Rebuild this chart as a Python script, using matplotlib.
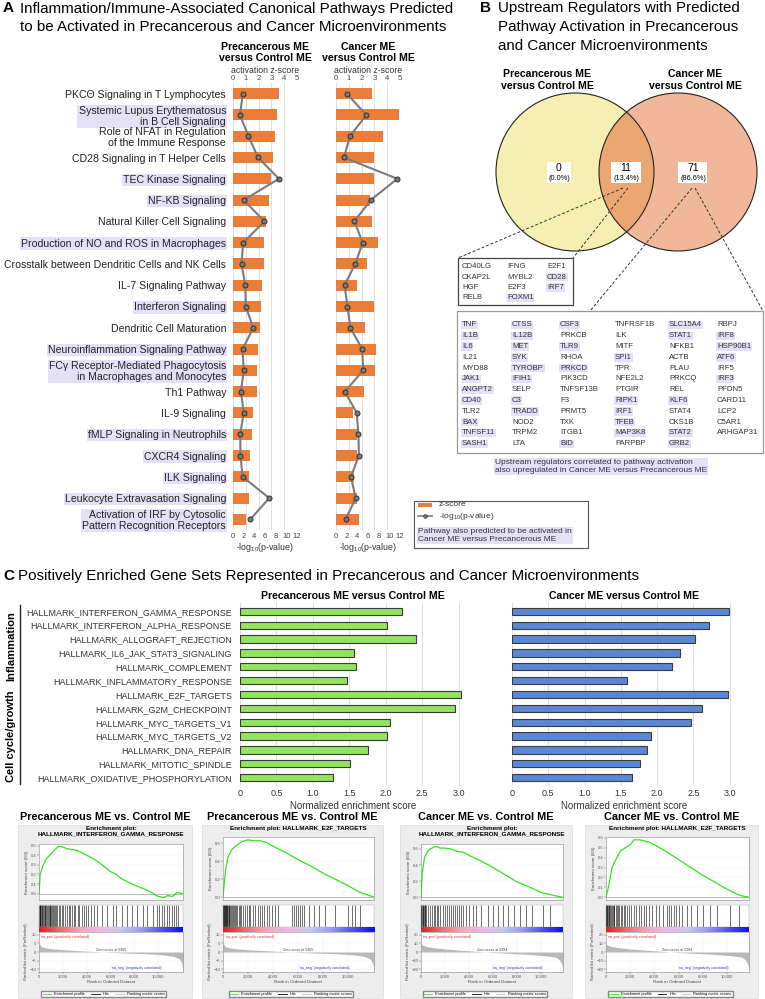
import numpy as np
import matplotlib.pyplot as plt
from matplotlib.patches import Circle, Rectangle
from matplotlib.lines import Line2D
from matplotlib.colors import LinearSegmentedColormap
from matplotlib.transforms import blended_transform_factory

plt.rcParams['font.family'] = ['Liberation Sans', 'DejaVu Sans']
plt.rcParams['mathtext.default'] = 'regular'

W, H = 765, 999
ORANGE = '#ea7d37'
LAV = '#e4e0f7'
GREEN = '#92e35e'
BLUE = '#5b88d6'

# ---- A: IPA canonical pathways
pathways = [
    'PKCΘ Signaling in T Lymphocytes',
    'Systemic Lupus Erythematosus\nin B Cell Signaling',
    'Role of NFAT in Regulation\nof the Immune Response',
    'CD28 Signaling in T Helper Cells',
    'TEC Kinase Signaling',
    'NF-KB Signaling',
    'Natural Killer Cell Signaling',
    'Production of NO and ROS in Macrophages',
    'Crosstalk between Dendritic Cells and NK Cells',
    'IL-7 Signaling Pathway',
    'Interferon Signaling',
    'Dendritic Cell Maturation',
    'Neuroinflammation Signaling Pathway',
    'FCγ Receptor-Mediated Phagocytosis\nin Macrophages and Monocytes',
    'Th1 Pathway',
    'IL-9 Signaling',
    'fMLP Signaling in Neutrophils',
    'CXCR4 Signaling',
    'ILK Signaling',
    'Leukocyte Extravasation Signaling',
    'Activation of IRF by Cytosolic\nPattern Recognition Receptors',
]
pathway_flag = [0, 1, 0, 0, 1, 1, 0, 1, 0, 0, 1, 0, 1, 1, 0, 0, 1, 1, 1, 1, 1]
pre_z = [3.56, 3.46, 3.31, 3.15, 2.95, 2.85, 2.54, 2.46, 2.41, 2.28, 2.20,
         2.10, 1.95, 1.85, 1.85, 1.59, 1.49, 1.36, 1.26, 1.26, 1.00]
pre_logp = [1.85, 1.3, 2.9, 4.7, 8.6, 2.0, 5.9, 1.9, 1.6, 2.3, 2.4,
            3.8, 1.8, 2.0, 1.5, 2.0, 1.35, 1.4, 1.8, 6.8, 3.25]
can_z = [2.82, 4.90, 3.69, 2.95, 2.95, 2.68, 2.84, 3.27, 2.45, 1.61, 2.97,
         2.28, 3.10, 3.05, 2.20, 1.31, 1.67, 1.67, 1.44, 1.62, 1.82]
can_logp = [2.0, 5.7, 2.6, 1.5, 11.5, 6.5, 3.45, 5.0, 3.6, 1.6, 2.15,
            2.7, 4.9, 5.1, 1.65, 3.9, 4.2, 4.3, 2.8, 3.7, 1.8]

# ---- B: upstream regulators
venn_names = ['Precancerous ME\nversus Control ME', 'Cancer ME\nversus Control ME']
venn_counts = [0, 11, 71]
shared_regs = [['CD40LG', 'CKAP2L', 'HGF', 'RELB'],
               ['IFNG', 'MYBL2', 'E2F3', 'FOXM1'],
               ['E2F1', 'CD28', 'IRF7']]
cancer_regs = [
    ['TNF', 'IL1B', 'IL6', 'IL21', 'MYD88', 'JAK1', 'ANGPT2', 'CD40', 'TLR2', 'BAX', 'TNFSF11', 'SASH1'],
    ['CTSS', 'IL12B', 'MET', 'SYK', 'TYROBP', 'IFIH1', 'SELP', 'C3', 'TRADD', 'NOD2', 'TRPM2', 'LTA'],
    ['CSF3', 'PRKCB', 'TLR9', 'RHOA', 'PRKCD', 'PIK3CD', 'TNFSF13B', 'F3', 'PRMT5', 'TXK', 'ITGB1', 'BID'],
    ['TNFRSF1B', 'ILK', 'MITF', 'SPI1', 'TPR', 'NFE2L2', 'PTGIR', 'RIPK1', 'IRF1', 'TFEB', 'MAP3K8', 'PARPBP'],
    ['SLC15A4', 'STAT1', 'NFKB1', 'ACTB', 'PLAU', 'PRKCQ', 'REL', 'KLF6', 'STAT4', 'CKS1B', 'STAT2', 'GRB2'],
    ['RBPJ', 'IRF8', 'HSP90B1', 'ATF6', 'IRF5', 'IRF3', 'PFDN5', 'CARD11', 'LCP2', 'C5AR1', 'ARHGAP31'],
]
reg_flag = {'FOXM1', 'CD28', 'IRF7', 'TNF', 'IL1B', 'IL6', 'JAK1', 'ANGPT2', 'CD40', 'BAX',
            'TNFSF11', 'SASH1', 'CTSS', 'IL12B', 'MET', 'SYK', 'TYROBP', 'IFIH1', 'C3', 'TRADD',
            'CSF3', 'TLR9', 'PRKCD', 'BID', 'SPI1', 'RIPK1', 'IRF1', 'TFEB', 'MAP3K8',
            'SLC15A4', 'STAT1', 'KLF6', 'STAT2', 'GRB2', 'IRF8', 'HSP90B1', 'ATF6', 'IRF3'}

# ---- C: GSEA hallmark sets
gene_sets = ['HALLMARK_INTERFERON_GAMMA_RESPONSE', 'HALLMARK_INTERFERON_ALPHA_RESPONSE',
             'HALLMARK_ALLOGRAFT_REJECTION', 'HALLMARK_IL6_JAK_STAT3_SIGNALING',
             'HALLMARK_COMPLEMENT', 'HALLMARK_INFLAMMATORY_RESPONSE', 'HALLMARK_E2F_TARGETS',
             'HALLMARK_G2M_CHECKPOINT', 'HALLMARK_MYC_TARGETS_V1', 'HALLMARK_MYC_TARGETS_V2',
             'HALLMARK_DNA_REPAIR', 'HALLMARK_MITOTIC_SPINDLE', 'HALLMARK_OXIDATIVE_PHOSPHORYLATION']
nes_pre = [2.22, 2.01, 2.41, 1.56, 1.59, 1.47, 3.03, 2.95, 2.06, 2.01, 1.75, 1.51, 1.28]
nes_can = [2.99, 2.71, 2.52, 2.31, 2.20, 1.59, 2.98, 2.62, 2.47, 1.91, 1.86, 1.77, 1.65]
set_groups = ['Inflammation', 'Cell cycle/growth']
group_sizes = [6, 7]

# enrichment plots (rank, running ES), hit ranks, ranked list metric
es_ifng_pre_x = [0, 100, 300, 600, 900, 1200, 1600, 1900, 2300, 2700, 3200, 4000, 4600, 5200,
                 6000, 6500, 7000, 8000, 8800, 9500, 10000, 10500, 10800, 11200, 11600, 12100]
es_ifng_pre_y = [0, 0.20, 0.28, 0.36, 0.40, 0.44, 0.49, 0.49, 0.47, 0.46, 0.45, 0.40, 0.36, 0.31,
                 0.23, 0.20, 0.15, 0.09, 0.05, 0.01, -0.03, -0.04, -0.02, -0.03, 0.01, 0]
hits_ifng_pre = [15, 45, 80, 120, 170, 230, 290, 340, 400, 470, 530, 600, 680, 750, 820, 900,
                 960, 1040, 1120, 1190, 1280, 1350, 1440, 1520, 1650, 1800, 1900, 2050, 2200,
                 2350, 2480, 2600, 2750, 2900, 3050, 3250, 3400, 3600, 3800, 3950, 4150, 4350,
                 4600, 4900, 5300, 5700, 6200, 6500, 7000, 7400, 7800, 8200, 8700, 9100, 9600,
                 9900, 10100, 10300, 10500, 10750, 10950, 11150, 11350, 11500, 11650]
es_e2f_pre_x = [0, 200, 400, 700, 1000, 1500, 2000, 2500, 3000, 3500, 4000, 5000, 6000, 7000,
                8000, 9000, 10000, 11000, 11500, 12100]
es_e2f_pre_y = [0, 0.30, 0.45, 0.53, 0.57, 0.62, 0.64, 0.63, 0.63, 0.61, 0.57, 0.50, 0.42, 0.35,
                0.27, 0.20, 0.13, 0.05, 0.03, 0]
hits_e2f_pre = [10, 30, 60, 90, 130, 170, 210, 260, 300, 350, 400, 460, 520, 580, 650, 720, 800,
                880, 960, 1050, 1150, 1250, 1350, 1450, 1600, 1750, 1900, 2050, 2200, 2400, 2600,
                2800, 3000, 3150, 3300, 3500, 3700, 3900, 4150, 4400, 5500, 5700, 5850, 6000,
                6150, 6300, 6500, 6900, 7300, 7700, 8200, 9000, 10000, 10300, 10600, 11000]
es_ifng_can_x = [0, 100, 300, 600, 1000, 1300, 1600, 2000, 2500, 3000, 3500, 4000, 5000, 6000,
                 7000, 8000, 9000, 10000, 10600, 11200, 11800]
es_ifng_can_y = [0, 0.30, 0.50, 0.58, 0.62, 0.63, 0.61, 0.61, 0.60, 0.57, 0.56, 0.52, 0.45, 0.37,
                 0.28, 0.19, 0.13, 0.06, 0.04, 0.02, 0]
hits_ifng_can = [10, 40, 80, 130, 180, 240, 300, 370, 450, 600, 750, 900, 1050, 1150, 1300,
                 1450, 1600, 1800, 2000, 2150, 2300, 2500, 2700, 2850, 3000, 3150, 3300, 3500,
                 3700, 4000, 4300, 4600, 5000, 5600, 6000, 6400, 6800, 7200, 7700, 8200, 8700,
                 9200, 10100, 10700]
es_e2f_can_x = [0, 200, 500, 800, 1200, 1600, 2000, 2300, 2800, 3500, 4000, 5000, 6000, 7000,
                8000, 9000, 10000, 10800, 11300, 11800]
es_e2f_can_y = [0, 0.10, 0.30, 0.38, 0.47, 0.50, 0.53, 0.58, 0.58, 0.56, 0.53, 0.46, 0.38, 0.30,
                0.22, 0.15, 0.08, 0.03, 0.01, 0]
hits_e2f_can = [10, 40, 80, 120, 170, 220, 280, 340, 400, 470, 540, 620, 700, 790, 880, 980,
                1080, 1200, 1320, 1450, 1600, 1750, 1900, 2050, 2300, 2500, 2700, 2900, 3100,
                3300, 3550, 3800, 4100, 4400, 4700, 5000, 5200, 5400, 5600, 5800, 6000, 6300,
                6700, 7000, 7500, 8000, 8600, 9200, 10200, 11000]
rank_pre_x = [0, 150, 500, 1000, 2000, 3000, 4000, 5405, 7000, 9000, 10500, 11300, 11800, 12000, 12100]
rank_pre_y = [5.5, 3.2, 2.4, 1.9, 1.3, 0.9, 0.5, 0.0, -0.5, -1.0, -1.7, -2.5, -4.0, -6.5, -10.5]
rank_can_x = [0, 100, 400, 1000, 2000, 3000, 4000, 5284, 7000, 9000, 10500, 11200, 11500, 11700, 11800]
rank_can_y = [11, 8, 6.5, 5, 3.5, 2.4, 1.4, 0.0, -1.3, -2.8, -4.5, -6.0, -9, -14, -19]

fig = plt.figure(figsize=(W / 100, H / 100), dpi=100)


def px_axes(x0, y0, x1, y1):
    return fig.add_axes([x0 / W, 1 - y1 / H, (x1 - x0) / W, (y1 - y0) / H])


# overlay in pixel units for texts, boxes, venn
ov = px_axes(0, 0, W, H)
ov.set_xlim(0, W)
ov.set_ylim(H, 0)
ov.axis('off')

TITLE_FS = 10.9

# ================= A =================
ov.text(3, 12.5, 'A', fontsize=11, fontweight='bold', va='baseline')
ov.text(20, 12.5, 'Inflammation/Immune-Associated Canonical Pathways Predicted', fontsize=TITLE_FS, va='baseline')
ov.text(20, 31, 'to be Activated in Precancerous and Cancer Microenvironments', fontsize=TITLE_FS, va='baseline')


def pathway_panel(x0, x1, z, logp, head, with_labels):
    ax = px_axes(x0, 83, x1, 530)
    ax2 = ax.twiny()
    rows = np.arange(len(z))
    ax.barh(rows, z, height=0.52, color=ORANGE, zorder=2)
    ax.set_xlim(0, 5)
    ax.set_ylim(len(z) - 0.5, -0.5)
    ax.xaxis.tick_top()
    ax.xaxis.set_label_position('top')
    ax.set_xticks(range(6))
    ax.set_xlabel('activation z-score', fontsize=6.3, labelpad=1, color='#333')
    ax.tick_params(axis='x', labelsize=5.5, length=0, pad=1, colors='#444')
    ax.grid(axis='x', color='#dedede', lw=0.7, zorder=0)
    ax.set_axisbelow(True)
    for s in ax.spines.values():
        s.set_visible(False)
    ax.set_yticks(rows)
    if with_labels:
        ax.set_yticklabels(pathways, fontsize=7.6, ha='right', multialignment='right', color='#222',
                           linespacing=1.1)
        for lbl, f in zip(ax.get_yticklabels(), pathway_flag):
            if f:
                lbl.set_bbox(dict(facecolor=LAV, edgecolor='none', pad=0.8))
        ax.tick_params(axis='y', length=0, pad=5)
    else:
        ax.tick_params(axis='y', length=0, labelleft=False)
    ax.set_title(head, fontsize=7.6, fontweight='bold', pad=15.5, linespacing=1.15)

    ax2.plot(logp, rows, '-o', color='#7b7b7b', lw=1.5, ms=3.6, mfc='#7a7a7a', mec='#303030', mew=0.7, zorder=3)
    ax2.set_xlim(0, 12)
    ax2.xaxis.set_ticks_position('bottom')
    ax2.xaxis.set_label_position('bottom')
    ax2.set_xticks(range(0, 13, 2))
    ax2.tick_params(axis='x', labelsize=5.5, length=0, pad=2, colors='#444')
    ax2.set_xlabel('-log$_{10}$(p-value)', fontsize=6.3, labelpad=1, color='#333')
    for s in ax2.spines.values():
        s.set_visible(False)
    return ax


pathway_panel(233, 297, pre_z, pre_logp, 'Precancerous ME\nversus Control ME', True)
pathway_panel(336, 400, can_z, can_logp, 'Cancer ME\nversus Control ME', False)

# legend box of A
ov.add_patch(Rectangle((414, 501), 174, 47, fc='white', ec='#555555', lw=0.8))
ov.add_patch(Rectangle((418, 503), 14, 4, fc=ORANGE, ec='none'))
ov.text(439, 505, 'z-score', fontsize=6, va='center', color='#333')
ov.plot([418, 432], [516, 516], color='#7b7b7b', lw=1.2)
ov.plot([425], [516], 'o', ms=2.6, mfc='#7a7a7a', mec='#303030', mew=0.5)
ov.text(439, 516, '-log$_{10}$(p-value)', fontsize=6, va='center', color='#333')
ov.text(418, 535.5, 'Pathway also predicted to be activated in\nCancer ME versus Precancerous ME',
        fontsize=6, va='center', color='#333', linespacing=1.3,
        bbox=dict(facecolor=LAV, edgecolor='none', pad=0.8))

# ================= B =================
ov.text(480, 12, 'B', fontsize=11, fontweight='bold', va='baseline')
for i, t in enumerate(['Upstream Regulators with Predicted', 'Pathway Activation in Precancerous',
                       'and Cancer Microenvironments']):
    ov.text(498, 12 + 19 * i, t, fontsize=TITLE_FS, va='baseline')

left_c = Circle((575, 172), 79, fc='#f6efb2', ec='none')
right_c = Circle((678, 172), 79, fc='#f0b798', ec='none')
ov.add_patch(left_c)
ov.add_patch(right_c)
mid = Circle((678, 172), 79, fc='#eba672', ec='none')
ov.add_patch(mid)
mid.set_clip_path(left_c)
ov.add_patch(Circle((575, 172), 79, fill=False, ec='#222', lw=0.8))
ov.add_patch(Circle((678, 172), 79, fill=False, ec='#222', lw=0.8))
ov.text(547, 80, venn_names[0], ha='center', va='center', fontsize=7.6, fontweight='bold', linespacing=1.15)
ov.text(695, 80, venn_names[1], ha='center', va='center', fontsize=7.6, fontweight='bold', linespacing=1.15)
total = sum(venn_counts)
for cx, wbox, n in zip([559, 626, 693], [24, 30, 29], venn_counts):
    ov.add_patch(Rectangle((cx - wbox / 2, 162), wbox, 21, fc='white', ec='none'))
    ov.text(cx, 168, str(n), ha='center', va='center', fontsize=7.5)
    ov.text(cx, 178, '(%.1f%%)' % (100 * n / total), ha='center', va='center', fontsize=5.3)

dash = dict(color='#333', lw=0.7, ls=(0, (3, 2)))
ov.plot([623, 458], [188, 258], **dash)
ov.plot([628, 573], [188, 258], **dash)
ov.plot([692, 590], [188, 311], **dash)
ov.plot([695, 763], [188, 311], **dash)


def gene_table(cols, xs, y0, dy):
    for col, x in zip(cols, xs):
        for j, g in enumerate(col):
            kw = {}
            if g in reg_flag:
                kw['bbox'] = dict(facecolor=LAV, edgecolor='none', pad=0.5)
            ov.text(x, y0 + j * dy, g, fontsize=5.6, va='center', color='#333', **kw)


ov.add_patch(Rectangle((458, 258), 115, 47, fc='white', ec='#444', lw=0.9))
gene_table(shared_regs, [462, 507, 547], 267, 10.3)
ov.add_patch(Rectangle((457, 311), 306, 142, fc='white', ec='#999', lw=0.9))
gene_table(cancer_regs, [462, 512, 560, 615, 669, 717], 325, 10.8)
ov.text(495, 466.5, 'Upstream regulators correlated to pathway activation\nalso upregulated in Cancer ME versus Precancerous ME',
        fontsize=6, va='center', color='#333', linespacing=1.3,
        bbox=dict(facecolor=LAV, edgecolor='none', pad=0.8))

# ================= C =================
ov.text(3, 580, 'C', fontsize=11, fontweight='bold', va='baseline')
ov.text(18, 580, 'Positively Enriched Gene Sets Represented in Precancerous and Cancer Microenvironments',
        fontsize=TITLE_FS, va='baseline')


def nes_panel(x0, x1, vals, color, head, with_labels):
    ax = px_axes(x0, 603, x1, 786)
    rows = np.arange(len(vals))
    ax.barh(rows, vals, height=0.52, color=color, edgecolor='#3a3a3a', lw=0.8, zorder=2)
    ax.set_xlim(0, 3.1)
    ax.set_ylim(len(vals) - 0.4, -0.6)
    ticks = [0, 0.5, 1.0, 1.5, 2.0, 2.5, 3.0]
    ax.set_xticks(ticks)
    ax.set_xticklabels(['0'] + ['%.1f' % t for t in ticks[1:]])
    ax.tick_params(axis='x', labelsize=6.5, length=0, pad=2, colors='#333')
    ax.grid(axis='x', color='#e0e0e0', lw=0.7, zorder=0)
    ax.set_axisbelow(True)
    for s in ax.spines.values():
        s.set_visible(False)
    ax.set_yticks(rows)
    if with_labels:
        ax.set_yticklabels(gene_sets, fontsize=6.5, color='#333')
        ax.tick_params(axis='y', length=0, pad=6)
    else:
        ax.tick_params(axis='y', length=0, labelleft=False)
    ax.set_title(head, fontsize=7.6, fontweight='bold', pad=3)
    ax.set_xlabel('Normalized enrichment score', fontsize=7, labelpad=2, color='#333')
    return ax


axg = nes_panel(240, 466, nes_pre, GREEN, 'Precancerous ME versus Control ME', True)
nes_panel(512, 737, nes_can, BLUE, 'Cancer ME versus Control ME', False)

tr = blended_transform_factory(ov.transData, axg.transData)
start = 0
for name, n in zip(set_groups, group_sizes):
    a, b = start - 0.45, start + n - 0.55
    axg.plot([20, 20], [a, b], color='#222', lw=1.0, transform=tr, clip_on=False)
    axg.text(11, (a + b) / 2, name, rotation=90, ha='center', va='center', fontsize=8,
             fontweight='bold', transform=tr, clip_on=False)
    start += n

# GSEA enrichment plots
gsea_cmap = LinearSegmentedColormap.from_list(
    'gsea', ['#e0202a', '#f06a70', '#f2a8b8', '#f0b8e4', '#c8c8f2', '#9a9af2', '#5050f0', '#1010f0'])


def gsea_panel(bx0, bx1, head, title, es_x, es_y, hits, rk_x, rk_y, rk_ticks, n_genes, zero_txt):
    ov.add_patch(Rectangle((bx0, 825), bx1 - bx0, 173, fc='#ededed', ec='#dcdcdc', lw=0.5))
    ov.text((bx0 + bx1) / 2, 817, head, ha='center', va='center', fontsize=7.8, fontweight='bold')
    a0, a1 = bx0 + 21, bx1 - 9
    ov.text((a0 + a1) / 2, 826, title, ha='center', va='top', fontsize=4.6, fontweight='bold', linespacing=1.2)
    es_top = 828 + 7 * (title.count('\n') + 1) + 2
    small = dict(labelsize=3, length=1.2, pad=0.8, width=0.3, colors='#555')

    ax_es = px_axes(a0, es_top, a1, 900)
    ax_es.plot(es_x, es_y, color='#2ee81a', lw=0.9)
    ax_es.axhline(0, color='#888', lw=0.4)
    ax_es.set_xlim(0, n_genes)
    ax_es.set_xticks([])
    ax_es.grid(color='#dddddd', lw=0.3, ls=':')
    ax_es.yaxis.set_major_formatter('{x:.1f}')
    ax_es.tick_params(**small)
    ax_es.set_ylabel('Enrichment score (ES)', fontsize=3.2, labelpad=1, color='#444')
    for s in ax_es.spines.values():
        s.set_linewidth(0.4)
        s.set_color('#888')

    ax_h = px_axes(a0, 905, a1, 927)
    ax_h.vlines(hits, 0, 1, color='black', lw=0.4)
    ax_h.set_xlim(0, n_genes)
    ax_h.set_ylim(0, 1)
    ax_h.set_xticks([])
    ax_h.set_yticks([])
    for s in ax_h.spines.values():
        s.set_linewidth(0.3)
        s.set_color('#aaa')

    ax_c = px_axes(a0, 927, a1, 932)
    ax_c.imshow(np.linspace(0, 1, 200)[None, :], aspect='auto', cmap=gsea_cmap, extent=(0, n_genes, 0, 1))
    ax_c.axis('off')

    ax_r = px_axes(a0, 932, a1, 972)
    ax_r.fill_between(rk_x, rk_y, 0, color='#b8b8b8', lw=0)
    ax_r.set_xlim(0, n_genes)
    ax_r.set_ylim(-rk_ticks[-1] * 1.15, rk_ticks[-1] * 1.15)
    ax_r.set_yticks([-rk_ticks[-1], -rk_ticks[0], 0, rk_ticks[0], rk_ticks[-1]])
    ax_r.set_xticks([0, 2000, 4000, 6000, 8000, 10000])
    ax_r.set_xticklabels(['0', '2,000', '4,000', '6,000', '8,000', '10,000'])
    ax_r.tick_params(**small)
    ax_r.grid(color='#dddddd', lw=0.3, ls=':')
    ax_r.set_ylabel('Ranked list metric (PreRanked)', fontsize=3.0, labelpad=1, color='#444')
    ax_r.set_xlabel('Rank in Ordered Dataset', fontsize=3.2, labelpad=0.8, color='#444')
    for s in ax_r.spines.values():
        s.set_linewidth(0.4)
        s.set_color('#888')
    ax_r.text(0.01, 0.93, "'na_pos' (positively correlated)", transform=ax_r.transAxes, fontsize=2.6,
              color='#e03030', va='top')
    ax_r.text(0.5, 0.5, zero_txt, transform=ax_r.transAxes, fontsize=2.6, color='#444', ha='center', va='bottom')
    ax_r.text(0.5, 0.05, "'na_neg' (negatively correlated)", transform=ax_r.transAxes, fontsize=2.6,
              color='#3030e0', va='bottom')
    handles = [Line2D([], [], color='#2ee81a', lw=0.6), Line2D([], [], color='black', lw=0.6),
               Line2D([], [], color='#bbbbbb', lw=0.6)]
    ax_r.legend(handles, ['Enrichment profile', 'Hits', 'Ranking metric scores'], loc='upper center',
                bbox_to_anchor=(0.45, -0.42), ncol=3, fontsize=2.8, frameon=True, handlelength=2.2,
                borderpad=0.3, columnspacing=1.5, fancybox=False, edgecolor='#888', framealpha=1)


gsea_panel(18, 192, 'Precancerous ME vs. Control ME', 'Enrichment plot:\nHALLMARK_INTERFERON_GAMMA_RESPONSE',
           es_ifng_pre_x, es_ifng_pre_y, hits_ifng_pre, rank_pre_x, rank_pre_y, [5, 10], 12100,
           'Zero cross at 5405')
gsea_panel(202, 383, 'Precancerous ME vs. Control ME', 'Enrichment plot: HALLMARK_E2F_TARGETS',
           es_e2f_pre_x, es_e2f_pre_y, hits_e2f_pre, rank_pre_x, rank_pre_y, [5, 10], 12100,
           'Zero cross at 5405')
gsea_panel(400, 572, 'Cancer ME vs. Control ME', 'Enrichment plot:\nHALLMARK_INTERFERON_GAMMA_RESPONSE',
           es_ifng_can_x, es_ifng_can_y, hits_ifng_can, rank_can_x, rank_can_y, [10, 20], 11800,
           'Zero cross at 5284')
gsea_panel(585, 758, 'Cancer ME vs. Control ME', 'Enrichment plot: HALLMARK_E2F_TARGETS',
           es_e2f_can_x, es_e2f_can_y, hits_e2f_can, rank_can_x, rank_can_y, [10, 20], 11800,
           'Zero cross at 5284')

fig.savefig('out.png', dpi=100)
